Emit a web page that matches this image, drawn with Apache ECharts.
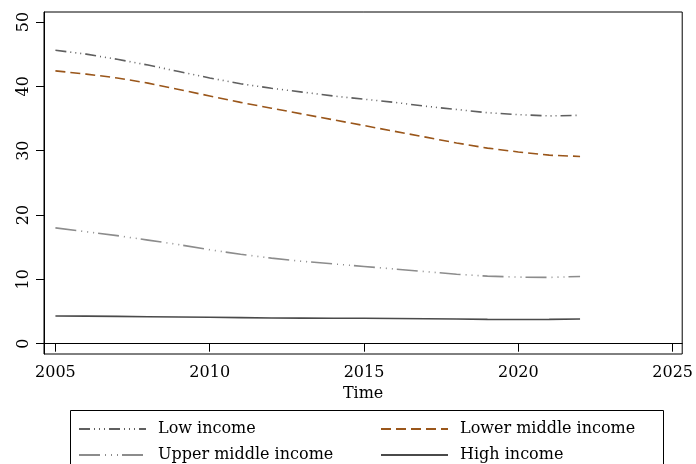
<!DOCTYPE html>
<html>
<head>
<meta charset="utf-8">
<script src="https://cdn.jsdelivr.net/npm/echarts@6/dist/echarts.min.js"></script>
<style>
html, body { margin: 0; padding: 0; background: #fff; }
#main { width: 696px; height: 464px; }
</style>
</head>
<body>
<div id="main"></div>
<script>
// years and series values
var years = [2005, 2006, 2007, 2008, 2009, 2010, 2011, 2012, 2013, 2014, 2015, 2016, 2017, 2018, 2019, 2020, 2021, 2022];
var lowIncome = [45.6, 45.0, 44.2, 43.3, 42.3, 41.3, 40.4, 39.7, 39.1, 38.5, 38.0, 37.5, 36.9, 36.4, 35.9, 35.6, 35.4, 35.5];
var lowerMiddle = [42.4, 41.9, 41.3, 40.5, 39.5, 38.5, 37.5, 36.6, 35.7, 34.8, 33.9, 33.0, 32.1, 31.2, 30.4, 29.8, 29.3, 29.1];
var upperMiddle = [18.0, 17.4, 16.8, 16.1, 15.4, 14.6, 13.9, 13.3, 12.8, 12.4, 12.0, 11.6, 11.2, 10.8, 10.5, 10.35, 10.3, 10.45];
var highIncome = [4.3, 4.28, 4.25, 4.2, 4.15, 4.1, 4.05, 4.0, 3.98, 3.96, 3.95, 3.92, 3.88, 3.83, 3.78, 3.76, 3.78, 3.85];
var xTicks = [2005, 2010, 2015, 2020, 2025];
var yTicks = [0, 10, 20, 30, 40, 50];

function pairs(vals) {
    return years.map(function (y, i) { return [y, vals[i]]; });
}

var font = '"DejaVu Serif", serif';

function makeSeries(name, vals, color, type) {
    return {
        name: name,
        type: 'line',
        data: pairs(vals),
        showSymbol: false,
        symbol: 'none',
        lineStyle: {color: color, width: 1.6, type: type},
        itemStyle: {color: color}
    };
}

function makeLegend(left, names) {
    return {
        orient: 'vertical',
        left: left, top: 421,
        padding: 0,
        itemWidth: 67, itemHeight: 14, itemGap: 10,
        itemStyle: {opacity: 0},
        data: names,
        textStyle: {fontFamily: font, fontSize: 16, color: '#000', padding: [0, 0, 0, 7]}
    };
}

var myChart = echarts.init(document.getElementById('main'));
var option = {
    animation: false,
    backgroundColor: '#fff',
    grid: {
        left: 44, right: 8, top: 12, bottom: 110,
        show: true,
        borderColor: '#000',
        borderWidth: 1
    },
    xAxis: {
        type: 'value',
        min: 2004.63,
        max: 2025.31,
        name: 'Time',
        nameLocation: 'middle',
        nameGap: 30,
        nameTextStyle: {fontFamily: font, fontSize: 16, color: '#000'},
        axisLine: {show: true, lineStyle: {color: '#000', width: 1}},
        axisTick: {show: true, length: 8, customValues: xTicks, lineStyle: {color: '#000'}},
        axisLabel: {
            customValues: xTicks,
            formatter: function (v) { return String(v); },
            margin: 11,
            fontFamily: font, fontSize: 16, color: '#000'
        },
        splitLine: {show: false}
    },
    yAxis: {
        type: 'value',
        min: -1.6,
        max: 51.55,
        axisLine: {show: true, lineStyle: {color: '#000', width: 1}},
        axisTick: {show: true, length: 8, customValues: yTicks, lineStyle: {color: '#000'}},
        axisLabel: {
            customValues: yTicks,
            rotate: 90,
            margin: 12,
            fontFamily: font, fontSize: 16, color: '#000'
        },
        splitLine: {show: false}
    },
    legend: [
        makeLegend(78, ['Low income', 'Upper middle income']),
        makeLegend(380, ['Lower middle income', 'High income'])
    ],
    graphic: [
        {
            type: 'rect',
            shape: {x: 70.5, y: 410.5, width: 593, height: 70},
            style: {fill: 'none', stroke: '#000', lineWidth: 1},
            silent: true
        }
    ],
    series: [
        makeSeries('Low income', lowIncome, '#5f5f5f', [11, 4, 1, 4, 1, 4, 1, 4]),
        makeSeries('Lower middle income', lowerMiddle, '#9a561a', [10, 5]),
        makeSeries('Upper middle income', upperMiddle, '#8c8c8c', [21, 5, 1, 5, 1, 5, 1, 4]),
        makeSeries('High income', highIncome, '#4a4a4a', 'solid')
    ]
};
myChart.setOption(option);
</script>
</body>
</html>
